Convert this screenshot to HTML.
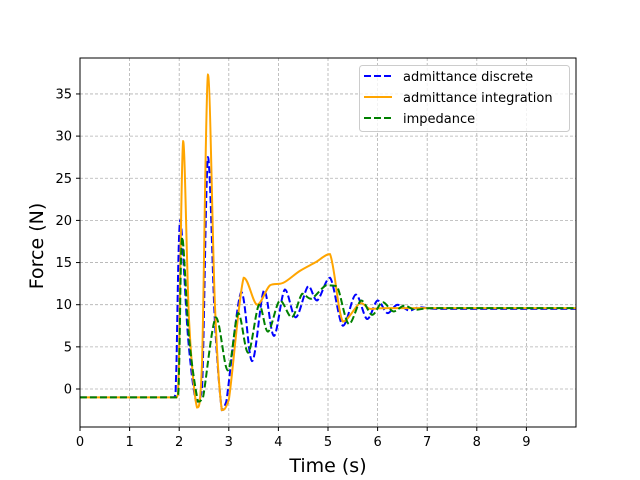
<!DOCTYPE html>
<html><head><meta charset="utf-8"><style>
html,body{margin:0;padding:0;background:#fff;}
svg{display:block;font-family:"DejaVu Sans","Liberation Sans",sans-serif;}
</style></head><body>
<svg id="chart" width="640" height="480">
<g id="grid"></g>
<g id="series"></g>
<rect x="80" y="58" width="496" height="369" fill="none" stroke="#000" stroke-width="1"/>
<g id="ticks"></g>
<text x="328" y="472" font-size="19" text-anchor="middle">Time (s)</text>
<text transform="translate(43,246) rotate(-90)" font-size="19" text-anchor="middle">Force (N)</text>
<g>
<rect x="359.5" y="65.5" width="210" height="66" rx="3" fill="#fff" fill-opacity="0.8" stroke="#ccc"/>
<g>
<line x1="364" y1="76" x2="392" y2="76" stroke="blue" stroke-width="2" stroke-dasharray="7,3"/>
<text x="403" y="81" font-size="13">admittance discrete</text></g>
<g>
<line x1="364" y1="97" x2="392" y2="97" stroke="orange" stroke-width="2"/>
<text x="403" y="102" font-size="13">admittance integration</text></g>
<g>
<line x1="364" y1="118" x2="392" y2="118" stroke="green" stroke-width="2" stroke-dasharray="7,3"/>
<text x="403" y="123" font-size="13">impedance</text></g>
</g>
</svg>
<script>
const xTicks=[0,1,2,3,4,5,6,7,8,9];
const yTicks=[0,5,10,15,20,25,30,35];
const discreteT=[0,1.9,1.94,2.02,2.18,2.34,2.46,2.58,2.72,2.86,2.95,3.25,3.47,3.71,3.91,4.13,4.35,4.6,4.78,5.04,5.3,5.56,5.79,6.0,6.2,6.4,6.64,6.84,7.2,8,10];
const discreteV=[-1,-1,2,20,6,-1.5,0,27.5,8,-2.5,-1.5,11.5,3.3,11.7,6.3,11.8,8.5,12.2,10.5,13.2,7.5,11.2,8.3,10.5,9,10,9.3,9.7,9.5,9.5,9.5];
const integT=[0,1.95,1.99,2.08,2.2,2.36,2.46,2.58,2.72,2.86,3.0,3.3,3.57,3.83,4.1,4.43,4.74,5.04,5.3,5.65,5.85,6.2,7,10];
const integV=[-1,-1,2,29.4,8,-2.2,3,37.3,10,-2.5,-1.3,13.2,10,12.3,12.6,14,15,16,8,10.2,9.5,9.6,9.6,9.6];
const impT=[0,1.96,2.0,2.06,2.2,2.38,2.48,2.74,2.98,3.19,3.39,3.61,3.79,4.03,4.27,4.48,4.66,4.96,5.18,5.42,5.67,5.89,6.1,6.32,6.54,6.76,7.1,8,10];
const impV=[-1,-1,3,18,6,-1.5,-1,8.5,2.2,9,4.3,10,6.8,10.5,8.5,11.3,10.7,12.3,12.2,7.7,10.5,8.8,10.3,9.2,9.9,9.4,9.6,9.6,9.6];
const X=t=>80+t*49.6, Y=v=>389-v*8.43;
const NS="http://www.w3.org/2000/svg";
const grid=document.getElementById('grid'),ticks=document.getElementById('ticks'),ser=document.getElementById('series');
function mk(tag,attrs,parent){const e=document.createElementNS(NS,tag);for(const k in attrs)e.setAttribute(k,attrs[k]);parent.appendChild(e);return e;}
xTicks.forEach(t=>{const x=X(t);
const g=mk('line',{x1:x,x2:x,y1:58,y2:427,stroke:'#b0b0b0','stroke-width':0.8,'stroke-dasharray':'3,2'},grid);


const tk=mk('line',{x1:x,x2:x,y1:427,y2:431,stroke:'#000'},ticks);


const tx=mk('text',{x:x,y:446,'font-size':13,'text-anchor':'middle'},ticks);tx.textContent=t;

});
yTicks.forEach(v=>{const y=Y(v);
const g=mk('line',{x1:80,x2:576,y1:y,y2:y,stroke:'#b0b0b0','stroke-width':0.8,'stroke-dasharray':'3,2'},grid);


const tk=mk('line',{x1:76,x2:80,y1:y,y2:y,stroke:'#000'},ticks);


const tx=mk('text',{x:72,y:y+4.5,'font-size':13,'text-anchor':'end'},ticks);tx.textContent=v;

});
function clamp(v,a,b){return Math.min(Math.max(v,Math.min(a,b)),Math.max(a,b));}
function path(ts,vs){const p=ts.map((t,i)=>[X(t),Y(vs[i])]);let d='M'+p[0][0]+','+p[0][1];
for(let i=0;i<p.length-1;i++){const p0=p[Math.max(0,i-1)],p1=p[i],p2=p[i+1],p3=p[Math.min(p.length-1,i+2)];
const c1=[p1[0]+(p2[0]-p0[0])/6,p1[1]+(p2[1]-p0[1])/6],c2=[p2[0]-(p3[0]-p1[0])/6,p2[1]-(p3[1]-p1[1])/6];
c1[0]=clamp(c1[0],p1[0],p2[0]);c2[0]=clamp(c2[0],p1[0],p2[0]);
c1[1]=clamp(c1[1],p1[1],p2[1]);c2[1]=clamp(c2[1],p1[1],p2[1]);
d+=' C'+c1.join(',')+' '+c2.join(',')+' '+p2.join(',');}return d;}
const cp=mk('clipPath',{id:'clip'},document.getElementById('chart'));mk('rect',{x:80,y:58,width:496,height:369},cp);
ser.setAttribute('clip-path','url(#clip)');
const l1=mk('path',{d:path(discreteT,discreteV),fill:'none',stroke:'blue','stroke-width':2,'stroke-dasharray':'7,3'},ser);


const l2=mk('path',{d:path(integT,integV),fill:'none',stroke:'orange','stroke-width':2},ser);


const l3=mk('path',{d:path(impT,impV),fill:'none',stroke:'green','stroke-width':2,'stroke-dasharray':'7,3'},ser);


</script>
</body></html>
